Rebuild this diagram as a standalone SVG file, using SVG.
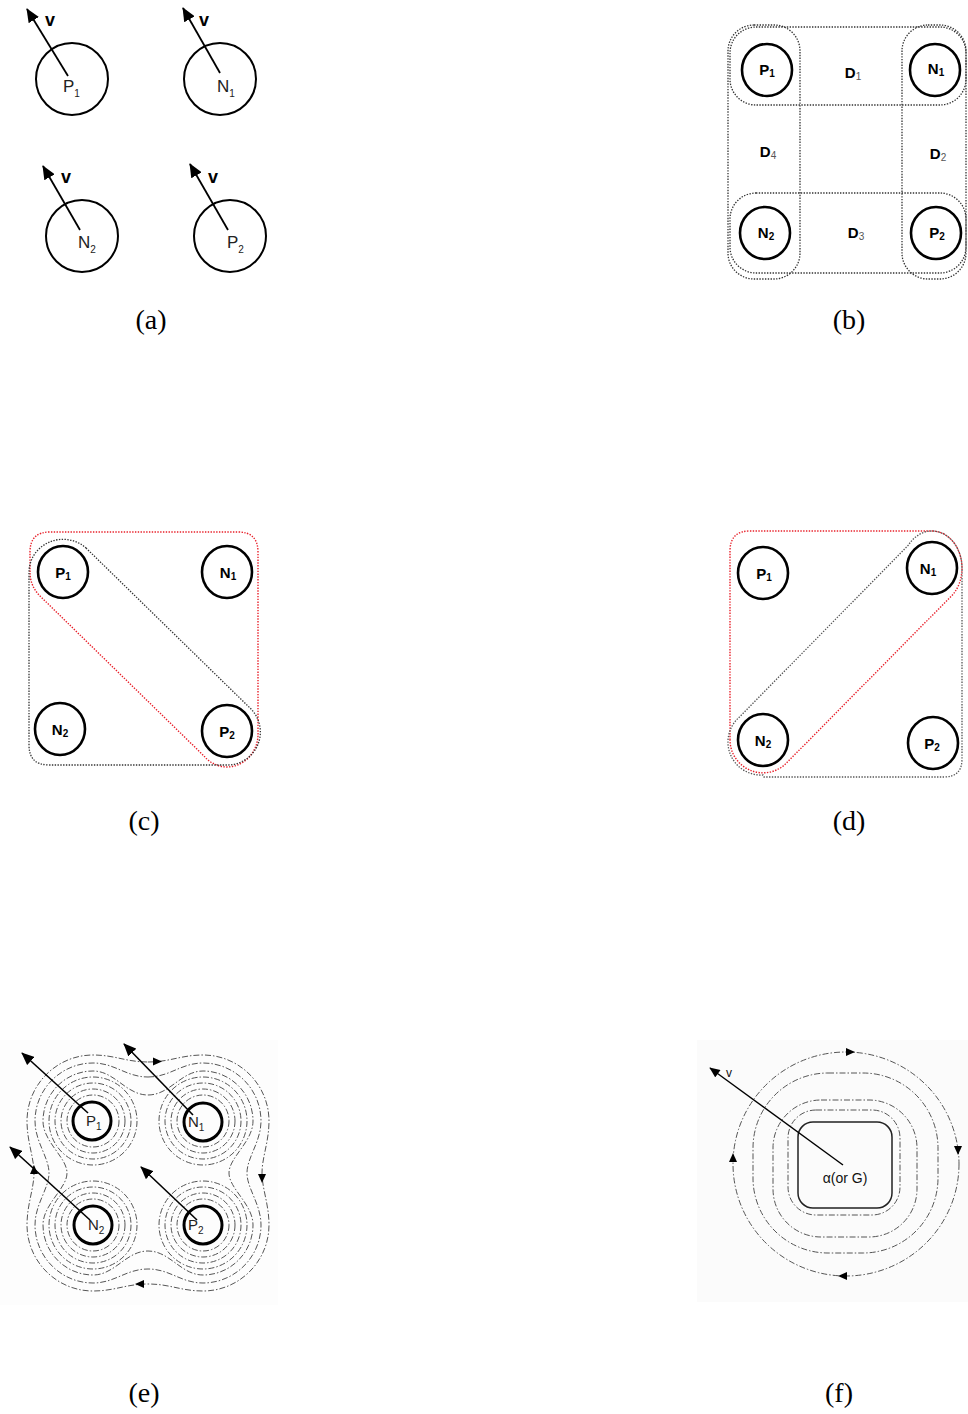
<svg xmlns="http://www.w3.org/2000/svg" width="968" height="1414" viewBox="0 0 968 1414">
<defs>
<marker id="ahA" viewBox="0 0 14 12" refX="13" refY="6" markerWidth="14" markerHeight="12" markerUnits="userSpaceOnUse" orient="auto"><path d="M0,0 L14,6 L0,12 Z" fill="#000"/></marker>
<marker id="ahE" viewBox="0 0 14 12" refX="13" refY="6" markerWidth="13" markerHeight="11" markerUnits="userSpaceOnUse" orient="auto"><path d="M0,0 L14,6 L0,12 Z" fill="#000"/></marker>
<marker id="ahF" viewBox="0 0 14 12" refX="13" refY="6" markerWidth="11" markerHeight="9" markerUnits="userSpaceOnUse" orient="auto"><path d="M0,0 L14,6 L0,12 Z" fill="#000"/></marker>
</defs>
<style>
.cap{font-family:"Liberation Serif","Times New Roman",serif;font-size:28px;fill:#000;text-anchor:middle}
.lbA{font-family:"Liberation Sans",Arial,sans-serif;font-size:17px;fill:#222}
.vA{font-family:"Liberation Sans",Arial,sans-serif;font-size:18px;font-weight:bold;fill:#000}
.lbB{font-family:"Liberation Sans",Arial,sans-serif;font-size:15px;font-weight:bold;fill:#000;text-anchor:middle}
.sub{font-size:10px}
.subl{font-size:10px;font-weight:normal;fill:#555}
.lbE{font-family:"Liberation Sans",Arial,sans-serif;font-size:15px;fill:#222}
.circA{fill:none;stroke:#000;stroke-width:2}
.ellB{fill:none;stroke:#000;stroke-width:2.6}
.dot{fill:none;stroke:#333;stroke-width:1.3;stroke-dasharray:1.4 1.4}
.dotR{fill:none;stroke:#e8202a;stroke-width:1.4;stroke-dasharray:1.4 1.4}
.dotG{fill:none;stroke:#555;stroke-width:1.3;stroke-dasharray:1.4 1.4}
.arr{stroke:#000;stroke-width:1.8;fill:none}
.ring{fill:none;stroke:#555;stroke-width:1;stroke-dasharray:6 2 1.5 2}
.circE{fill:none;stroke:#000;stroke-width:3}
.tri{fill:#000}
</style>
<rect x="0" y="0" width="968" height="1414" fill="#fff"/>

<!-- Panel (a) -->
<g id="panel-a">
<g id="a-P1"><circle class="circA" cx="72" cy="79" r="36"/><text class="lbA" x="63" y="92">P<tspan class="sub" dy="5">1</tspan></text></g>
<g id="a-N1"><circle class="circA" cx="220" cy="79" r="36"/><text class="lbA" x="217" y="92">N<tspan class="sub" dy="5">1</tspan></text></g>
<g id="a-N2"><circle class="circA" cx="82" cy="236" r="36"/><text class="lbA" x="78" y="248">N<tspan class="sub" dy="5">2</tspan></text></g>
<g id="a-P2"><circle class="circA" cx="230" cy="236" r="36"/><text class="lbA" x="227" y="248">P<tspan class="sub" dy="5">2</tspan></text></g>
<g id="a-arrows">
<line class="arr" x1="68" y1="76" x2="27" y2="9" marker-end="url(#ahA)"/>
<line class="arr" x1="220" y1="73" x2="183" y2="8" marker-end="url(#ahA)"/>
<line class="arr" x1="80" y1="230" x2="43" y2="166" marker-end="url(#ahA)"/>
<line class="arr" x1="228" y1="230" x2="190" y2="164" marker-end="url(#ahA)"/>
</g>
<text class="vA" x="45" y="26">v</text>
<text class="vA" x="199" y="26">v</text>
<text class="vA" x="61" y="183">v</text>
<text class="vA" x="208" y="183">v</text>
<text class="cap" x="151" y="329">(a)</text>
</g>

<!-- Panel (b) -->
<g id="panel-b">
<g id="b-regions">
<rect class="dot" x="730" y="27" width="236" height="78" rx="26"/>
<rect class="dot" x="730" y="193" width="236" height="80" rx="26"/>
<rect class="dot" x="728" y="25" width="72" height="254" rx="26"/>
<rect class="dot" x="902" y="25" width="64" height="254" rx="26"/>
</g>
<g id="b-P1"><ellipse class="ellB" cx="767" cy="70" rx="25" ry="26"/><text class="lbB" x="767" y="75">P<tspan class="sub" dy="2">1</tspan></text></g>
<g id="b-N1"><ellipse class="ellB" cx="935" cy="70" rx="25" ry="26"/><text class="lbB" x="936" y="74">N<tspan class="sub" dy="2">1</tspan></text></g>
<g id="b-N2"><ellipse class="ellB" cx="765" cy="233" rx="25" ry="26"/><text class="lbB" x="766" y="238">N<tspan class="sub" dy="2">2</tspan></text></g>
<g id="b-P2"><ellipse class="ellB" cx="936" cy="233" rx="25" ry="26"/><text class="lbB" x="937" y="238">P<tspan class="sub" dy="2">2</tspan></text></g>
<text class="lbB" x="853" y="78">D<tspan class="subl" dy="2">1</tspan></text>
<text class="lbB" x="768" y="157">D<tspan class="subl" dy="2">4</tspan></text>
<text class="lbB" x="938" y="159">D<tspan class="subl" dy="2">2</tspan></text>
<text class="lbB" x="856" y="238">D<tspan class="subl" dy="2">3</tspan></text>
<text class="cap" x="849" y="329">(b)</text>
</g>

<!-- Panel (c) -->
<g id="panel-c">
<g id="c-regions">
<path class="dotR" d="M30 572 L30 552 Q30 532 50 532 L238 532 Q258 532 258 552 L258 732 A31 33 0 0 1 204 756 L40 596 A33 33 0 0 1 30 572 Z"/>
<path class="dot" d="M86 548 L250 708 A33 33 0 0 1 227 765 L49 765 Q29 765 29 745 L29 572 A34 33 0 0 1 86 548 Z"/>
</g>
<g id="c-P1"><ellipse class="ellB" cx="63" cy="572" rx="25" ry="26"/><text class="lbB" x="63" y="578">P<tspan class="sub" dy="2">1</tspan></text></g>
<g id="c-N1"><ellipse class="ellB" cx="227" cy="572" rx="25" ry="26"/><text class="lbB" x="228" y="578">N<tspan class="sub" dy="2">1</tspan></text></g>
<g id="c-N2"><ellipse class="ellB" cx="60" cy="729" rx="25" ry="26"/><text class="lbB" x="60" y="735">N<tspan class="sub" dy="2">2</tspan></text></g>
<g id="c-P2"><ellipse class="ellB" cx="227" cy="731" rx="25" ry="26"/><text class="lbB" x="227" y="737">P<tspan class="sub" dy="2">2</tspan></text></g>
<text class="cap" x="144" y="830">(c)</text>
</g>

<!-- Panel (d) -->
<g id="panel-d">
<g id="d-regions">
<path class="dotR" d="M730 740 L730 551 Q730 531 750 531 L932 531 A30 37 0 0 1 962 568 A30 37 0 0 1 953.2 594.2 L786.5 763 A33 33 0 0 1 730 740 Z"/>
<path class="dotG" d="M908.5 545 L739.5 717 A33 33 0 0 0 763 775 L764 777 L944 777 Q962 777 962 759 L962 568 A30 37 0 0 0 908.5 545 Z"/>
</g>
<g id="d-P1"><ellipse class="ellB" cx="763" cy="573" rx="25" ry="26"/><text class="lbB" x="764" y="579">P<tspan class="sub" dy="2">1</tspan></text></g>
<g id="d-N1"><ellipse class="ellB" cx="932" cy="568" rx="25" ry="26"/><text class="lbB" x="928" y="574">N<tspan class="sub" dy="2">1</tspan></text></g>
<g id="d-N2"><ellipse class="ellB" cx="763" cy="740" rx="25" ry="26"/><text class="lbB" x="763" y="746">N<tspan class="sub" dy="2">2</tspan></text></g>
<g id="d-P2"><ellipse class="ellB" cx="933" cy="743" rx="25" ry="26"/><text class="lbB" x="932" y="749">P<tspan class="sub" dy="2">2</tspan></text></g>
<text class="cap" x="849" y="830">(d)</text>
</g>

<!-- Panel (e) -->
<g id="panel-e">
<rect x="0" y="1040" width="278" height="265" fill="#fdfdfd"/>
<g id="e-field">
<g id="e-rings">
<circle class="ring" cx="93" cy="1121" r="26"/><circle class="ring" cx="93" cy="1121" r="32"/><circle class="ring" cx="93" cy="1121" r="38"/><circle class="ring" cx="93" cy="1121" r="44"/>
<circle class="ring" cx="203" cy="1121" r="26"/><circle class="ring" cx="203" cy="1121" r="32"/><circle class="ring" cx="203" cy="1121" r="38"/><circle class="ring" cx="203" cy="1121" r="44"/>
<circle class="ring" cx="93" cy="1225" r="26"/><circle class="ring" cx="93" cy="1225" r="32"/><circle class="ring" cx="93" cy="1225" r="38"/><circle class="ring" cx="93" cy="1225" r="44"/>
<circle class="ring" cx="203" cy="1225" r="26"/><circle class="ring" cx="203" cy="1225" r="32"/><circle class="ring" cx="203" cy="1225" r="38"/><circle class="ring" cx="203" cy="1225" r="44"/>
</g>
<path class="ring" d="M148 1095 C170 1095,181 1071,203 1071 C230.5 1071,253 1093.5,253 1121 C253 1141.8,229 1157.4,229 1173 C229 1188.6,253 1204.2,253 1225 C253 1252.5,230.5 1275,203 1275 C181 1275,170 1251,148 1251 C126 1251,115 1275,93 1275 C65.5 1275,43 1252.5,43 1225 C43 1204.2,67 1188.6,67 1173 C67 1157.4,43 1141.8,43 1121 C43 1093.5,65.5 1071,93 1071 C115 1071,126 1095,148 1095 Z"/>
<path class="ring" d="M148 1077 C170 1077,181 1063,203 1063 C234.9 1063,261 1089.1,261 1121 C261 1141.8,247 1157.4,247 1173 C247 1188.6,261 1204.2,261 1225 C261 1256.9,234.9 1283,203 1283 C181 1283,170 1269,148 1269 C126 1269,115 1283,93 1283 C61.1 1283,35 1256.9,35 1225 C35 1204.2,49 1188.6,49 1173 C49 1157.4,35 1141.8,35 1121 C35 1089.1,61.1 1063,93 1063 C115 1063,126 1077,148 1077 Z"/>
<path class="ring" d="M148 1062 C170 1062,181 1055,203 1055 C239.3 1055,269 1084.7,269 1121 C269 1141.8,262 1157.4,262 1173 C262 1188.6,269 1204.2,269 1225 C269 1261.3,239.3 1291,203 1291 C181 1291,170 1284,148 1284 C126 1284,115 1291,93 1291 C56.7 1291,27 1261.3,27 1225 C27 1204.2,34 1188.6,34 1173 C34 1157.4,27 1141.8,27 1121 C27 1084.7,56.7 1055,93 1055 C115 1055,126 1062,148 1062 Z"/>
<polygon class="tri" points="162,1061.5 153,1057.5 153,1065.5"/>
<polygon class="tri" points="262,1183 258,1174 266,1174"/>
<polygon class="tri" points="135,1284 144,1280 144,1288"/>
<polygon class="tri" points="34,1165 30,1174 38,1174"/>
</g>
<g id="e-P1"><circle class="circE" cx="92" cy="1121" r="19"/><text class="lbE" x="86" y="1126">P<tspan class="sub" dy="4">1</tspan></text></g>
<g id="e-N1"><circle class="circE" cx="203" cy="1122" r="19"/><text class="lbE" x="188" y="1127">N<tspan class="sub" dy="4">1</tspan></text></g>
<g id="e-N2"><circle class="circE" cx="93" cy="1225" r="19"/><text class="lbE" x="88" y="1230">N<tspan class="sub" dy="4">2</tspan></text></g>
<g id="e-P2"><circle class="circE" cx="203" cy="1225" r="19"/><text class="lbE" x="188" y="1230">P<tspan class="sub" dy="4">2</tspan></text></g>
<g id="e-arrows">
<line class="arr" style="stroke-width:1.6" x1="88" y1="1113" x2="22" y2="1053" marker-end="url(#ahE)"/>
<line class="arr" style="stroke-width:1.6" x1="193" y1="1115" x2="124" y2="1044" marker-end="url(#ahE)"/>
<line class="arr" style="stroke-width:1.6" x1="90" y1="1220" x2="10" y2="1147" marker-end="url(#ahE)"/>
<line class="arr" style="stroke-width:1.6" x1="197" y1="1220" x2="141" y2="1167" marker-end="url(#ahE)"/>
</g>
<text class="cap" x="144" y="1402">(e)</text>
</g>

<!-- Panel (f) -->
<g id="panel-f">
<rect x="697" y="1040" width="271" height="262" fill="#fbfbfb"/>
<g id="f-field">
<rect class="ring" x="788" y="1110" width="112" height="105" rx="28"/>
<rect class="ring" x="773" y="1100" width="144" height="137" rx="48"/>
<rect class="ring" x="753" y="1073" width="185" height="180" rx="75"/>
<ellipse class="ring" cx="846" cy="1164" rx="113" ry="112"/>
<polygon class="tri" points="855,1052 846,1048 846,1056"/>
<polygon class="tri" points="958,1155 954,1146 962,1146"/>
<polygon class="tri" points="838,1276 847,1272 847,1280"/>
<polygon class="tri" points="733,1153 729,1162 737,1162"/>
</g>
<g id="f-alpha">
<rect x="798" y="1122" width="94" height="86" rx="15" fill="none" stroke="#222" stroke-width="1.5"/>
<text x="845" y="1183" font-family="Liberation Sans, Arial, sans-serif" font-size="14" fill="#111" text-anchor="middle">α(or G)</text>
</g>
<line class="arr" style="stroke-width:1.4" x1="843" y1="1165" x2="710" y2="1068" marker-end="url(#ahF)"/>
<text x="726" y="1077" font-family="Liberation Sans, Arial, sans-serif" font-size="12" fill="#111">v</text>
<text class="cap" x="839" y="1402">(f)</text>
</g>
</svg>
